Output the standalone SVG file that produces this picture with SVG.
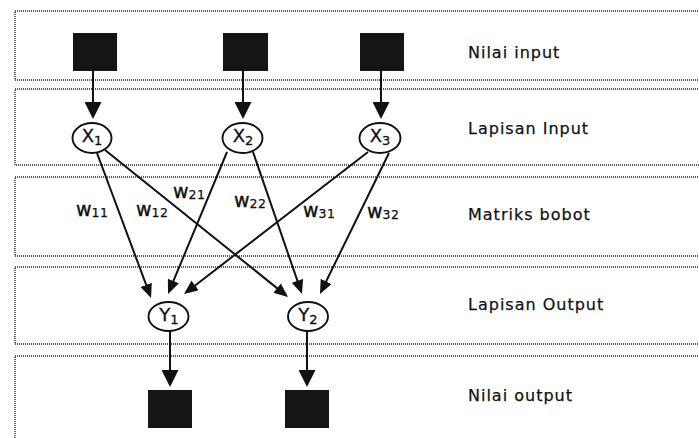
<svg xmlns="http://www.w3.org/2000/svg" width="699" height="438" viewBox="0 0 699 438">
<style>
.band{fill:none;stroke:#222;stroke-width:1.4;stroke-dasharray:1 1}
.sq{fill:#151515}
.nd{fill:#fff;stroke:#111;stroke-width:1.9}
.ln{fill:none;stroke:#111;stroke-width:2}
.lbl{font-family:"DejaVu Sans",Verdana,sans-serif;font-size:16px;letter-spacing:1px;fill:#111;stroke:#111;stroke-width:0.25}
.nt{font-family:"DejaVu Sans",Verdana,sans-serif;font-size:18px;fill:#111;stroke:#111;stroke-width:0.3;text-anchor:middle}
.nt tspan{font-size:13px}
.w{font-family:"DejaVu Sans",Verdana,sans-serif;font-size:19px;fill:#111;stroke:#111;stroke-width:0.4}
.w tspan{font-size:12.5px;letter-spacing:0.5px;stroke-width:0.25}
</style>
<defs>
<marker id="ah" viewBox="0 0 14 12" refX="11" refY="6" markerWidth="14" markerHeight="12" orient="auto" markerUnits="userSpaceOnUse"><path d="M0,0 L14,6 L0,12 z" fill="#111"/></marker>
<marker id="ahv" viewBox="0 0 17 17" refX="14" refY="8.5" markerWidth="17" markerHeight="17" orient="auto" markerUnits="userSpaceOnUse"><path d="M0,0 L17,8.5 L0,17 z" fill="#111"/></marker>
</defs>
<rect width="699" height="438" fill="#fff"/>
<g id="layers">
<rect class="band" x="15" y="11" width="700" height="69"/>
<rect class="band" x="15" y="89" width="700" height="76"/>
<rect class="band" x="15" y="177" width="700" height="79"/>
<rect class="band" x="15" y="267" width="700" height="77"/>
<rect class="band" x="15" y="356" width="700" height="100"/>
<text class="lbl" x="468" y="58">Nilai input</text>
<text class="lbl" x="468" y="134">Lapisan Input</text>
<text class="lbl" x="468" y="220">Matriks bobot</text>
<text class="lbl" x="468" y="310">Lapisan Output</text>
<text class="lbl" x="468" y="401">Nilai output</text>
</g>
<g id="connectors">
<line class="ln" x1="93" y1="71" x2="93" y2="116" marker-end="url(#ahv)"/>
<line class="ln" x1="243" y1="71" x2="243" y2="116" marker-end="url(#ahv)"/>
<line class="ln" x1="381" y1="71" x2="381" y2="116" marker-end="url(#ahv)"/>
<line class="ln" x1="97" y1="153" x2="150" y2="295.2" marker-end="url(#ah)"/>
<line class="ln" x1="105" y1="150" x2="285.7" y2="295.1" marker-end="url(#ah)"/>
<line class="ln" x1="227" y1="152" x2="169.2" y2="291.2" marker-end="url(#ah)"/>
<line class="ln" x1="253" y1="152" x2="301" y2="291.2" marker-end="url(#ah)"/>
<line class="ln" x1="368" y1="152" x2="186.4" y2="292.2" marker-end="url(#ah)"/>
<line class="ln" x1="389" y1="153" x2="321.3" y2="291.3" marker-end="url(#ah)"/>
<line class="ln" x1="170" y1="331" x2="170" y2="384" marker-end="url(#ahv)"/>
<line class="ln" x1="307" y1="331" x2="307" y2="384" marker-end="url(#ahv)"/>
<text class="w" x="76" y="216">w<tspan dy="1">11</tspan></text>
<text class="w" x="136" y="216">w<tspan dy="1">12</tspan></text>
<text class="w" x="173" y="198">w<tspan dy="1">21</tspan></text>
<text class="w" x="234" y="207">w<tspan dy="1">22</tspan></text>
<text class="w" x="303" y="217">w<tspan dy="1">31</tspan></text>
<text class="w" x="367" y="218">w<tspan dy="1">32</tspan></text>
</g>
<g id="in1"><rect class="sq" x="73" y="33" width="44" height="38"/></g>
<g id="in2"><rect class="sq" x="223" y="33" width="45" height="38"/></g>
<g id="in3"><rect class="sq" x="360" y="33" width="44" height="38"/></g>
<g id="x1"><ellipse class="nd" cx="92" cy="138" rx="19.5" ry="15"/><text class="nt" x="92" y="142">X<tspan dy="3">1</tspan></text></g>
<g id="x2"><ellipse class="nd" cx="242.5" cy="138" rx="20" ry="15"/><text class="nt" x="243" y="142">X<tspan dy="3">2</tspan></text></g>
<g id="x3"><ellipse class="nd" cx="380" cy="138" rx="20.5" ry="15"/><text class="nt" x="380" y="142">X<tspan dy="3">3</tspan></text></g>
<g id="y1"><ellipse class="nd" cx="168.5" cy="316.5" rx="20" ry="14.5"/><text class="nt" x="169" y="321">Y<tspan dy="3">1</tspan></text></g>
<g id="y2"><ellipse class="nd" cx="308" cy="316.5" rx="20" ry="14.5"/><text class="nt" x="308" y="321">Y<tspan dy="3">2</tspan></text></g>
<g id="out1"><rect class="sq" x="148" y="390" width="44" height="38"/></g>
<g id="out2"><rect class="sq" x="285" y="390" width="44" height="38"/></g>
</svg>
